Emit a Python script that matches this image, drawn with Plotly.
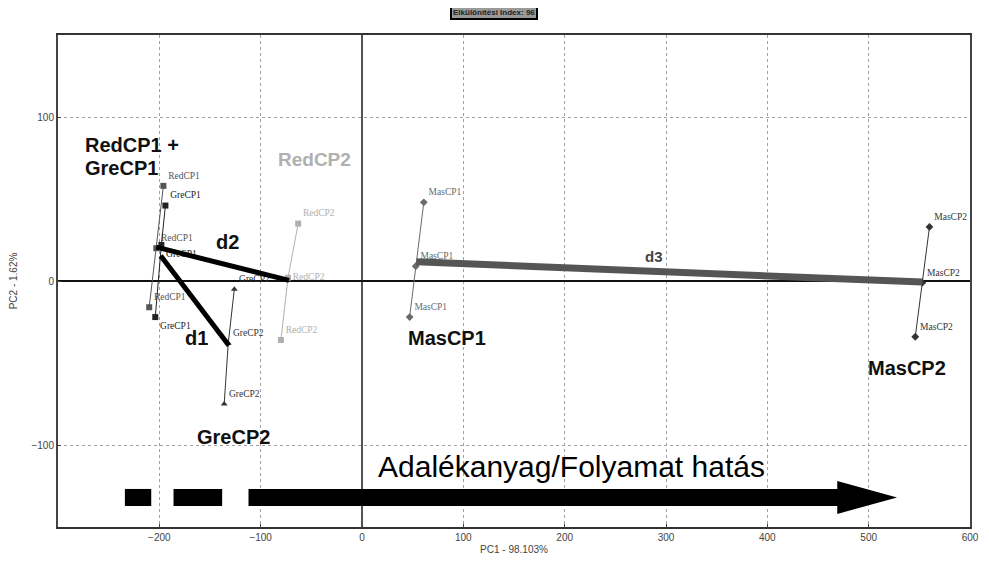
import numpy as np
import plotly.graph_objects as go

# ---- data (PC scores) ----
classes = ["RedCP1", "GreCP1", "RedCP2", "GreCP2", "MasCP1", "MasCP2"]
red_cp1_x = [-196, -203, -210]
red_cp1_y = [58, 20, -16]
gre_cp1_x = [-194, -198, -204]
gre_cp1_y = [46, 22, -22]
red_cp2_x = [-63, -73, -80]
red_cp2_y = [35, 2, -36]
gre_cp2_x = [-126, -132, -136]
gre_cp2_y = [-5, -38, -75]
mas_cp1_x = [61, 53, 47]
mas_cp1_y = [48, 9, -22]
mas_cp2_x = [560, 553, 546]
mas_cp2_y = [33, -1, -34]

xs = [red_cp1_x, gre_cp1_x, red_cp2_x, gre_cp2_x, mas_cp1_x, mas_cp2_x]
ys = [red_cp1_y, gre_cp1_y, red_cp2_y, gre_cp2_y, mas_cp1_y, mas_cp2_y]
colors = ["#555555", "#222222", "#b0b0b0", "#333333", "#6a6a6a", "#333333"]
symbols = ["square", "square", "square", "triangle-up", "diamond", "diamond"]
label_pos = [["top right", "top right", "top right"],
             ["top right", "bottom right", "bottom right"],
             ["top right", "middle right", "top right"],
             ["top right", "top right", "top right"],
             ["top right", "top right", "top right"],
             ["top right", "top right", "top right"]]

# distances between class centroids
dist_pairs = [("d1", "GreCP1", "GreCP2", "#000000", 5),
              ("d2", "RedCP1", "RedCP2", "#000000", 5),
              ("d3", "MasCP1", "MasCP2", "#555555", 7)]

x_ticks = [-200, -100, 0, 100, 200, 300, 400, 500, 600]
y_ticks = [-100, 0, 100]

# effect arrow (dashed bar) along PC1
arrow_dash_x0 = [-234, -186, -112]
arrow_dash_x1 = [-208, -138, 470]
arrow_head_x = [469, 528]
arrow_y = -132

fig = go.Figure()

for name, x, y, c, s, tp in zip(classes, xs, ys, colors, symbols, label_pos):
    fig.add_trace(go.Scatter(
        x=x, y=y, mode="lines+markers+text", text=[name] * len(x),
        textposition=tp,
        textfont=dict(family="Liberation Serif", size=9.5, color=c),
        line=dict(color=c, width=1),
        marker=dict(symbol=s, size=6, color=c),
        showlegend=False, hoverinfo="skip"))

cent = {n: (float(np.mean(x)), float(np.mean(y))) for n, x, y in zip(classes, xs, ys)}
for lab, a, b, c, w in dist_pairs:
    fig.add_trace(go.Scatter(
        x=[cent[a][0], cent[b][0]], y=[cent[a][1], cent[b][1]],
        mode="lines", line=dict(color=c, width=w),
        showlegend=False, hoverinfo="skip"))

# arrow shapes
for x0, x1 in zip(arrow_dash_x0, arrow_dash_x1):
    fig.add_shape(type="rect", x0=x0, x1=x1, y0=arrow_y - 5.2, y1=arrow_y + 5.2,
                  fillcolor="black", line=dict(width=0))
fig.add_shape(type="path",
              path=f"M {arrow_head_x[0]},{arrow_y + 10} L {arrow_head_x[1]},{arrow_y} L {arrow_head_x[0]},{arrow_y - 10} Z",
              fillcolor="black", line=dict(width=0))

big = dict(family="Liberation Sans", size=20, color="#111111")
annots = [
    dict(x=-275, y=83, text="<b>RedCP1 +</b>", xanchor="left", font=big),
    dict(x=-275, y=69, text="<b>GreCP1</b>", xanchor="left", font=big),
    dict(x=-85, y=74, text="<b>RedCP2</b>", xanchor="left", font=dict(family="Liberation Sans", size=19, color="#b0b0b0")),
    dict(x=-133, y=24, text="<b>d2</b>", xanchor="center", font=big),
    dict(x=-163, y=-35, text="<b>d1</b>", xanchor="center", font=big),
    dict(x=-127, y=-95, text="<b>GreCP2</b>", xanchor="center", font=big),
    dict(x=84, y=-35, text="<b>MasCP1</b>", xanchor="center", font=big),
    dict(x=538, y=-53, text="<b>MasCP2</b>", xanchor="center", font=big),
    dict(x=288, y=15, text="<b>d3</b>", xanchor="center", font=dict(family="Liberation Sans", size=15, color="#444444")),
    dict(x=14, y=-113, text="Adalékanyag/Folyamat hatás", xanchor="left",
         font=dict(family="Liberation Sans", size=30, color="#000000")),
]
for a in annots:
    fig.add_annotation(showarrow=False, yanchor="middle", **a)

fig.add_annotation(xref="paper", yref="paper", x=0.478, y=1.045, yanchor="middle",
                   showarrow=False,
                   text="<b>Elkülönítési Index: 96</b>",
                   font=dict(family="Liberation Sans Narrow, Liberation Sans", size=8, color="#222222"),
                   bgcolor="#9a9a9a", bordercolor="black", borderwidth=2, borderpad=1)

tickfont = dict(family="Liberation Sans Narrow, Liberation Sans", size=10, color="#444444")
fig.update_xaxes(range=[-300, 600], tickvals=x_ticks, ticks="inside", ticklen=3,
                 showgrid=True, gridcolor="#a0a0a0", griddash="dot", gridwidth=1,
                 zeroline=True, zerolinecolor="#555555", zerolinewidth=2,
                 showline=True, linecolor="#333333", linewidth=2, mirror=True,
                 tickfont=tickfont, automargin=False,
                 title=dict(text="PC1 - 98.103%", font=tickfont, standoff=4))
fig.update_yaxes(range=[-150, 150], tickvals=y_ticks, ticks="inside", ticklen=3,
                 showgrid=True, gridcolor="#a0a0a0", griddash="dot", gridwidth=1,
                 zeroline=True, zerolinecolor="#111111", zerolinewidth=1.5,
                 showline=True, linecolor="#444444", linewidth=2, mirror=True,
                 tickfont=tickfont, automargin=False,
                 title=dict(text="PC2 - 1.62%", font=tickfont, standoff=20))

fig.update_layout(width=981, height=566, margin=dict(l=50, r=19, t=27, b=47),
                  plot_bgcolor="white", paper_bgcolor="white")

fig.write_html("out.html")
